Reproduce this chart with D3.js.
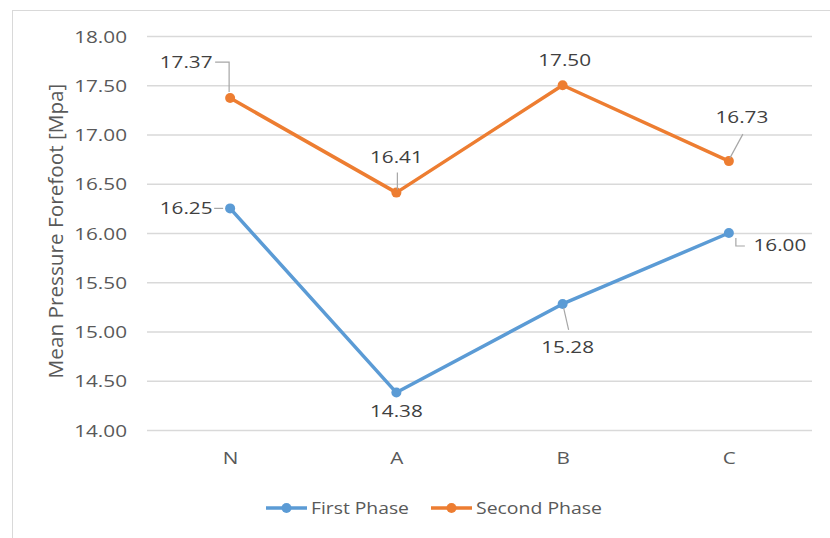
<!DOCTYPE html>
<html>
<head>
<meta charset="utf-8">
<script src="https://cdn.jsdelivr.net/npm/d3@7/dist/d3.min.js"></script>
<style>
  html, body { margin: 0; padding: 0; background: #ffffff; }
  svg { display: block; }
  text { font-family: "Open Sans", Lato, "Liberation Sans", sans-serif; }
</style>
</head>
<body>
<svg id="chart" width="830" height="538"></svg>
<script>
// Measurements per condition
const categories = ["N", "A", "B", "C"];
const firstPhase = [16.25, 14.38, 15.28, 16.00];
const secondPhase = [17.37, 16.41, 17.50, 16.73];
const yTicks = [14.0, 14.5, 15.0, 15.5, 16.0, 16.5, 17.0, 17.5, 18.0];
const seriesNames = ["First Phase", "Second Phase"];
const seriesColors = ["#5b9bd5", "#ed7d31"];
const yTitle = "Mean Pressure Forefoot [Mpa]";

// Label placement for each point: offset of the label centre from the point,
// and an optional leader-line path given in the same offsets.
const firstLabelPos = [
  { dx: -44, dy: 0,  leader: [[-16, 0], [-7, 0]] },
  { dx: 0,   dy: 18, leader: null },
  { dx: 5,   dy: 43, leader: [[1, 4], [6, 26]] },
  { dx: 51,  dy: 12, leader: [[7, 5], [7, 13], [16, 13]] }
];
const secondLabelPos = [
  { dx: -44, dy: -36, leader: [[-15, -36], [-1, -36], [-1, -6]] },
  { dx: 0,   dy: -36, leader: [[1, -20], [1, -3]] },
  { dx: 2,   dy: -25, leader: null },
  { dx: 13,  dy: -44, leader: [[14, -27], [1, -3]] }
];

const STRETCH = 1.22;
const svg = d3.select("#chart");

// Outer chart border (top and left edges visible)
svg.append("rect")
  .attr("x", 12.5).attr("y", 10.5)
  .attr("width", 840).attr("height", 560)
  .attr("fill", "none").attr("stroke", "#d9d9d9").attr("stroke-width", 1);

const plot = { left: 147, right: 812, top: 36, bottom: 430 };

const x = d3.scalePoint().domain(categories)
  .range([plot.left, plot.right]).padding(0.5);
const y = d3.scaleLinear().domain([14, 18])
  .range([plot.bottom, plot.top]);

// Y axis with gridlines
const yAxis = svg.append("g")
  .attr("transform", `translate(${plot.left},0)`)
  .call(d3.axisLeft(y).tickValues(yTicks)
    .tickSize(-(plot.right - plot.left))
    .tickFormat(d3.format(".2f")));
yAxis.select(".domain").remove();
yAxis.selectAll(".tick line")
  .attr("stroke", "#d9d9d9").attr("stroke-width", 1.5);
yAxis.selectAll(".tick text")
  .attr("x", 0).attr("dy", "0.36em")
  .attr("transform", `translate(-20,0) scale(${STRETCH},1)`)
  .attr("fill", "#595959")
  .style("font-size", "17px");

// X axis labels
const xAxis = svg.append("g")
  .attr("transform", `translate(0,${plot.bottom})`)
  .call(d3.axisBottom(x).tickSize(0));
xAxis.select(".domain").remove();
xAxis.selectAll(".tick text")
  .attr("y", 0).attr("dy", "0.36em")
  .attr("transform", `translate(0,28) scale(${STRETCH},1)`)
  .attr("fill", "#595959")
  .style("font-size", "17px");

// Y axis title, fitted to its span along the axis
const title = svg.append("text")
  .attr("text-anchor", "middle")
  .attr("dy", "0.36em")
  .attr("fill", "#595959")
  .style("font-size", "16px")
  .text(yTitle);
const titleLen = title.node().getComputedTextLength();
title.attr("transform", `translate(56,231) rotate(-90) scale(${295 / titleLen},${STRETCH})`);

const line = d3.line()
  .x((d, i) => x(categories[i]))
  .y(d => y(d));

const series = [
  { name: seriesNames[0], values: firstPhase, color: seriesColors[0], labels: firstLabelPos },
  { name: seriesNames[1], values: secondPhase, color: seriesColors[1], labels: secondLabelPos }
];

series.forEach(s => {
  svg.append("path")
    .datum(s.values)
    .attr("d", line)
    .attr("fill", "none")
    .attr("stroke", s.color)
    .attr("stroke-width", 3.5)
    .attr("stroke-linejoin", "round");
  svg.selectAll(null)
    .data(s.values)
    .enter().append("circle")
    .attr("cx", (d, i) => x(categories[i]))
    .attr("cy", d => y(d))
    .attr("r", 5)
    .attr("fill", s.color);
});

// Data labels with leader lines
series.forEach(s => {
  s.values.forEach((v, i) => {
    const px = x(categories[i]), py = y(v);
    const pos = s.labels[i];
    if (pos.leader) {
      svg.append("path")
        .attr("d", d3.line()(pos.leader.map(p => [px + p[0], py + p[1]])))
        .attr("fill", "none")
        .attr("stroke", "#a6a6a6")
        .attr("stroke-width", 1.2);
    }
    svg.append("text")
      .attr("transform", `translate(${px + pos.dx},${py + pos.dy}) scale(${STRETCH},1)`)
      .attr("text-anchor", "middle")
      .attr("dy", "0.36em")
      .attr("fill", "#404040")
      .style("font-size", "17px")
      .text(v.toFixed(2));
  });
});

// Legend: swatch line with marker, then the series name fitted to its slot
const legendY = 508;
const legendItems = [
  { x0: 266, x1: 307, tx: 311, w: 98 },
  { x0: 431, x1: 472, tx: 476, w: 126 }
];
series.forEach((s, i) => {
  const it = legendItems[i];
  const g = svg.append("g");
  g.append("line")
    .attr("x1", it.x0).attr("x2", it.x1)
    .attr("y1", legendY).attr("y2", legendY)
    .attr("stroke", s.color).attr("stroke-width", 3.5);
  g.append("circle")
    .attr("cx", (it.x0 + it.x1) / 2).attr("cy", legendY)
    .attr("r", 5).attr("fill", s.color);
  const t = g.append("text")
    .attr("dy", "0.36em")
    .attr("fill", "#595959")
    .style("font-size", "17px")
    .text(s.name);
  const len = t.node().getComputedTextLength();
  t.attr("transform", `translate(${it.tx},${legendY}) scale(${it.w / len},1)`);
});
</script>
</body>
</html>
